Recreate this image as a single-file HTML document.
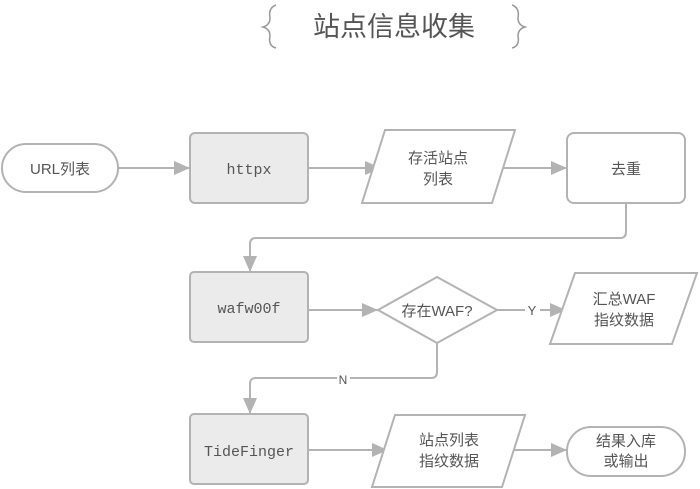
<!DOCTYPE html>
<html><head><meta charset="utf-8"><style>
html,body{margin:0;padding:0;background:#fff;}
svg{display:block}
text{font-family:"Liberation Sans","Noto Sans CJK SC",sans-serif;fill:#555;}
.m{font-family:"Liberation Mono","Noto Sans CJK SC",monospace;}
</style></head><body>
<svg width="700" height="489" viewBox="0 0 700 489" xmlns="http://www.w3.org/2000/svg">
<defs><marker id="a" markerWidth="18" markerHeight="14" refX="16" refY="7" orient="auto" markerUnits="userSpaceOnUse"><path d="M0,0 L16,7 L0,14 Z" fill="#b3b3b3"/></marker></defs>
<g stroke="#b3b3b3" stroke-width="2" fill="none">
<!-- connectors -->
<path d="M118,168 L190,168" marker-end="url(#a)"/>
<path d="M308,168 L381,168" marker-end="url(#a)"/>
<path d="M492,168 L567,168" marker-end="url(#a)"/>
<path d="M626,203 L626,232 Q626,238 620,238 L256,238 Q250,238 250,244 L250,272" marker-end="url(#a)"/>
<path d="M308,310 L378,310" marker-end="url(#a)"/>
<path d="M497,310 L525,310 M540,310 L566,310" marker-end="url(#a)"/>
<path d="M437,343 L437,372 Q437,378 431,378 L350,378 M337,378 L256,378 Q250,378 250,384 L250,414" marker-end="url(#a)"/>
<path d="M308,450 L388,450" marker-end="url(#a)"/>
<path d="M510,450 L567,450" marker-end="url(#a)"/>
<!-- title braces -->
<path d="M276,5 Q268,8 270,18 Q270,25 263,27 Q270,29 270,36 Q268,46 276,48" stroke="#999" stroke-width="1.5"/>
<path d="M512,5 Q520,8 518,18 Q518,25 525,27 Q518,29 518,36 Q520,46 512,48" stroke="#999" stroke-width="1.5"/>
<!-- nodes -->
<rect x="2" y="144" width="116" height="48" rx="24" fill="#fff"/>
<rect x="190" y="133" width="118" height="70" rx="5" fill="#ebebeb"/>
<path d="M385,130 L515,130 L492,203 L362,203 Z" fill="#fff"/>
<rect x="567" y="133" width="118" height="70" rx="7" fill="#fff"/>
<rect x="190" y="272" width="118" height="70" rx="4" fill="#ebebeb"/>
<path d="M437,277 L497,310 L437,343 L378,310 Z" fill="#fff"/>
<path d="M575,273 L697,273 L672,344 L550,344 Z" fill="#fff"/>
<rect x="190" y="414" width="118" height="70" rx="4" fill="#ebebeb"/>
<path d="M395,415 L525,415 L502,487 L372,487 Z" fill="#fff"/>
<rect x="567" y="427" width="118" height="49" rx="24" fill="#fff"/>
</g>
<text x="394" y="36" font-size="27" text-anchor="middle" fill="#777">站点信息收集</text>
<text x="60" y="174" font-size="15" text-anchor="middle">URL列表</text>
<text x="249" y="174" font-size="15" text-anchor="middle" class="m">httpx</text>
<text x="438" y="163" font-size="15" text-anchor="middle">存活站点</text>
<text x="438" y="184" font-size="15" text-anchor="middle">列表</text>
<text x="626" y="174" font-size="15" text-anchor="middle">去重</text>
<text x="249" y="313" font-size="15" text-anchor="middle" class="m">wafw00f</text>
<text x="437" y="316" font-size="15" text-anchor="middle">存在WAF?</text>
<text x="532" y="315" font-size="13" text-anchor="middle">Y</text>
<text x="624" y="304" font-size="15" text-anchor="middle">汇总WAF</text>
<text x="624" y="325" font-size="15" text-anchor="middle">指纹数据</text>
<text x="343" y="384" font-size="12" text-anchor="middle">N</text>
<text x="249" y="456" font-size="15" text-anchor="middle" class="m">TideFinger</text>
<text x="449" y="445" font-size="15" text-anchor="middle">站点列表</text>
<text x="449" y="466" font-size="15" text-anchor="middle">指纹数据</text>
<text x="626" y="446" font-size="15" text-anchor="middle">结果入库</text>
<text x="626" y="466" font-size="15" text-anchor="middle">或输出</text>
</svg>
</body></html>
